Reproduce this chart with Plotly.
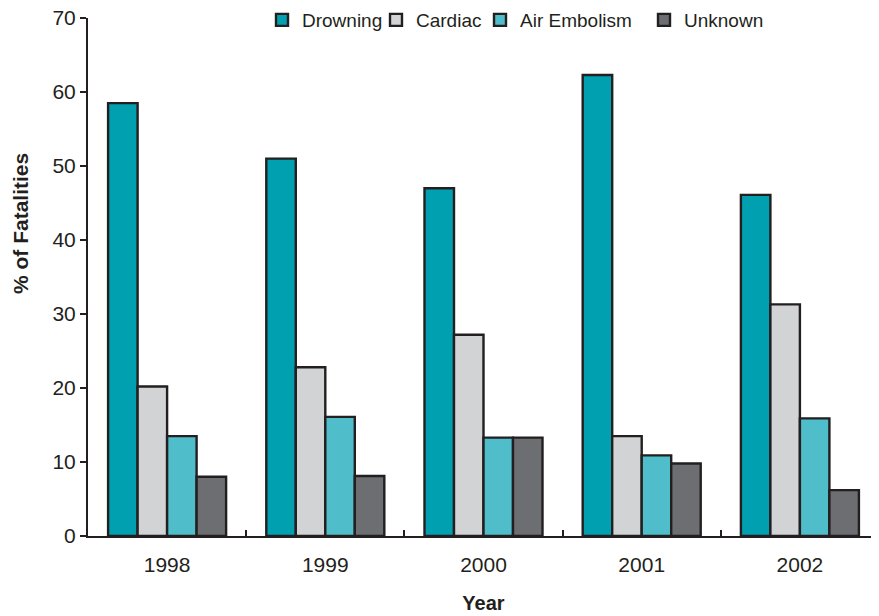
import plotly.graph_objects as go

years = ["1998", "1999", "2000", "2001", "2002"]
drowning = [58.5, 51.0, 47.0, 62.3, 46.1]
cardiac = [20.2, 22.8, 27.2, 13.5, 31.3]
air_embolism = [13.5, 16.1, 13.3, 10.9, 15.9]
unknown = [8.0, 8.1, 13.3, 9.8, 6.2]

series_names = ["Drowning", "Cardiac", "Air Embolism", "Unknown"]
series_values = [drowning, cardiac, air_embolism, unknown]
series_colors = ["#00A0B0", "#D2D3D5", "#4FBDCA", "#6D6E71"]

# page has an 8px body margin; figure sized so plot area lands where reference has it
OFF = 8
W, H = 879 - OFF, 616 - OFF
L, R, T, B = 88 - OFF, 0, 18 - OFF, 80
PW = W - L - R
PH = H - T - B

# legend text start positions in page pixels (reference)
legend_text_px = [298, 412, 516, 680]
legend_keys = ["legend", "legend2", "legend3", "legend4"]

fig = go.Figure()
for name, vals, col, lk in zip(series_names, series_values, series_colors, legend_keys):
    fig.add_trace(go.Bar(
        x=years, y=vals, name=name, legend=lk, showlegend=True,
        marker=dict(color=col, line=dict(color="#231F20", width=2.4)),
    ))

font = "Liberation Sans, Arial, sans-serif"
layout_legends = {}
for lk, tx in zip(legend_keys, legend_text_px):
    layout_legends[lk] = dict(
        orientation="h",
        x=(tx - OFF - 36 - L) / PW, y=1 - (20 - OFF - T) / PH,
        xanchor="left", yanchor="middle",
        font=dict(size=19, color="#231F20", family=font),
        bgcolor="rgba(0,0,0,0)", borderwidth=0,
    )

fig.update_layout(
    width=W, height=H, showlegend=True,
    margin=dict(l=L, r=R, t=T, b=B, autoexpand=False),
    paper_bgcolor="white", plot_bgcolor="white",
    barmode="group", bargap=0.254, bargroupgap=0,
    font=dict(family=font, size=21, color="#231F20"),
    xaxis=dict(
        type="category", range=[-0.5, 4.5], automargin=False,
        showline=True, linecolor="#231F20", linewidth=2,
        ticks="inside", tickson="boundaries", ticklen=6, tickwidth=2, tickcolor="#231F20",
        ticklabelstandoff=9,
        showgrid=False,
        title=dict(text="<b>Year</b>", font=dict(size=20), standoff=21),
        tickfont=dict(size=21),
    ),
    yaxis=dict(
        range=[0, 70], dtick=10, automargin=False,
        showline=True, linecolor="#231F20", linewidth=2,
        ticks="outside", ticklen=6, tickwidth=2, tickcolor="#231F20",
        ticklabeloverflow="allow",
        showgrid=False, zeroline=False,
        tickfont=dict(size=21),
    ),
    annotations=[dict(
        text="<b>% of Fatalities</b>", textangle=-90,
        xref="paper", yref="paper",
        x=(20 - OFF - L) / PW, y=1 - (224 - OFF - T) / PH,
        xanchor="center", yanchor="middle", showarrow=False,
        font=dict(size=21, color="#231F20", family=font),
    )],
    **layout_legends,
)

fig.write_html("out.html")
